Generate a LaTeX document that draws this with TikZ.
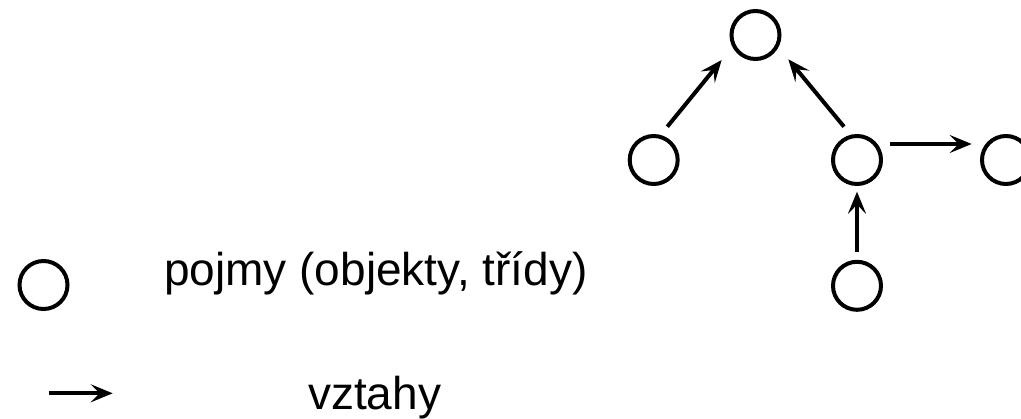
\documentclass[tikz,border=0pt]{standalone}
\usepackage{fontspec}
\setmainfont{Liberation Sans}
\usetikzlibrary{arrows.meta}
\begin{document}
\begin{tikzpicture}[x=1pt,y=-1pt,
  concept/.style={circle,draw=black,line width=4pt,minimum size=48pt,inner sep=0pt},
  rel/.style={line width=4pt,-{Stealth[length=22pt,width=18pt,inset=9pt]}},
  label/.style={inner sep=0pt,anchor=base west,font=\fontsize{46}{54}\selectfont}]
\useasboundingbox (0,0) rectangle (1021,419);
\clip (0,0) rectangle (1021,419);
\node[concept] (t) at (755.5,35) {};
\node[concept] (l) at (653.7,160) {};
\node[concept] (m) at (857,160) {};
\node[concept] (r) at (1006,160) {};
\node[concept] (b) at (857,285.8) {};
\draw[rel] ([shift={(13.6,-33.3)}]l.center) -- ([shift={(-33.8,25)}]t.center);
\draw[rel] ([shift={(-13,-33.3)}]m.center) -- ([shift={(32.8,24.3)}]t.center);
\draw[rel] ([shift={(33,-16)}]m.center) -- ([shift={(-34.3,-16)}]r.center);
\draw[rel] ([shift={(0,-33.5)}]b.center) -- ([shift={(0,31.7)}]m.center);
\node[concept] (lc) at (43.5,285) {};
\node[label] (lt1) at (164,286) {pojmy (objekty, třídy)};
\coordinate (la1) at (49.3,393.3);
\coordinate (la2) at (112.7,393.3);
\draw[rel] (la1) -- (la2);
\node[label] (lt2) at (308,409.3) {vztahy};
\end{tikzpicture}
\end{document}
